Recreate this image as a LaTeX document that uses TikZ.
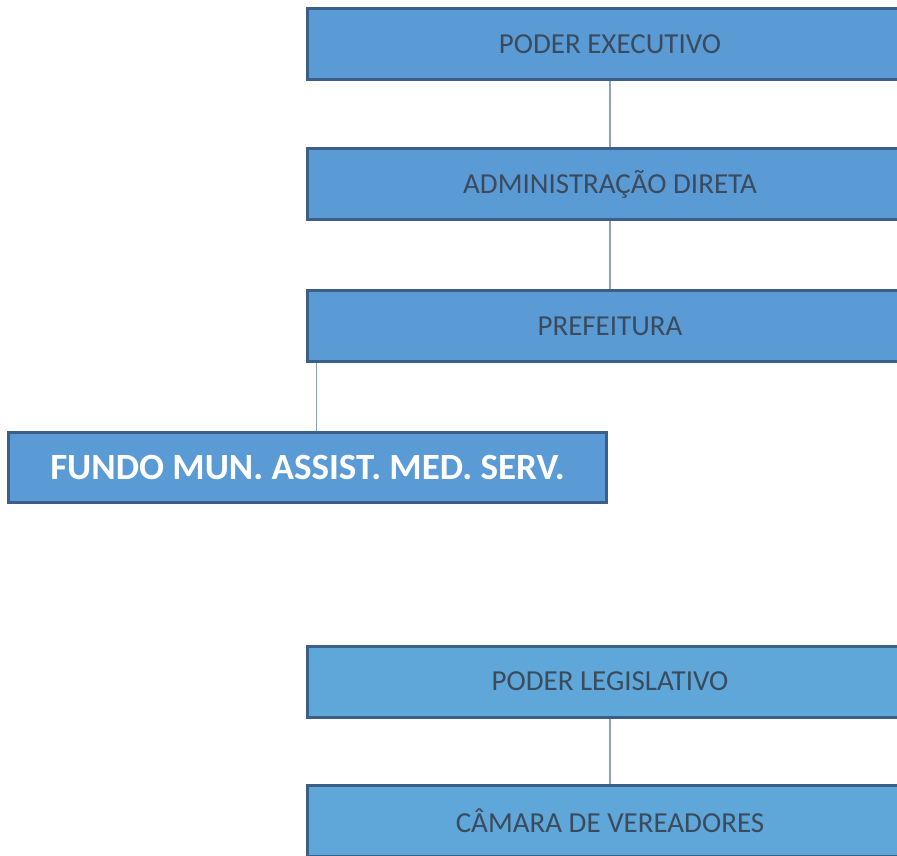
\documentclass[tikz,border=0pt]{standalone}
\usepackage{fontspec}
\setmainfont{Carlito}
\definecolor{boxfill}{HTML}{5B9BD5}
\definecolor{boxfillb}{HTML}{5FA7D9}
\definecolor{boxline}{HTML}{3B5F86}
\definecolor{txt}{HTML}{3A4B5E}
\definecolor{conn}{HTML}{8AA4C0}
\tikzset{
  orgbox/.style={draw=boxline, line width=3pt, fill=boxfill, minimum width=606pt, minimum height=71pt, inner sep=0pt, text=txt, font=\fontsize{29}{34}\selectfont},
  orgboxb/.style={orgbox, fill=boxfillb},
  bigbox/.style={draw=boxline, line width=3pt, fill=boxfill, minimum width=598pt, minimum height=70pt, inner sep=0pt, text=white, font=\bfseries\fontsize{37}{42}\selectfont},
  link/.style={draw=conn, line width=1.5pt}
}
\begin{document}
\begin{tikzpicture}[x=1pt,y=1pt]
\useasboundingbox (0,0) rectangle (897,855);
\clip (0,0) rectangle (897,855);
\node[orgbox] (pe) at (610,811) {PODER EXECUTIVO};
\node[orgbox] (ad) at (610,671) {ADMINISTRAÇÃO DIRETA};
\node[orgbox] (pr) at (610,529) {PREFEITURA};
\node[bigbox] (fm) at (307.5,387.5) {FUNDO MUN. ASSIST. MED. SERV.};
\node[orgboxb] (pl) at (610,173.5) {PODER LEGISLATIVO};
\node[orgboxb] (cv) at (610,34) {CÂMARA DE VEREADORES};
\draw[link] (pe.south) -- (ad.north);
\draw[link] (ad.south) -- (pr.north);
\draw[link] ([xshift=11pt]pr.south west) -- ([xshift=11pt]pr.south west |- fm.north);
\draw[link] (pl.south) -- (cv.north);
\end{tikzpicture}
\end{document}
